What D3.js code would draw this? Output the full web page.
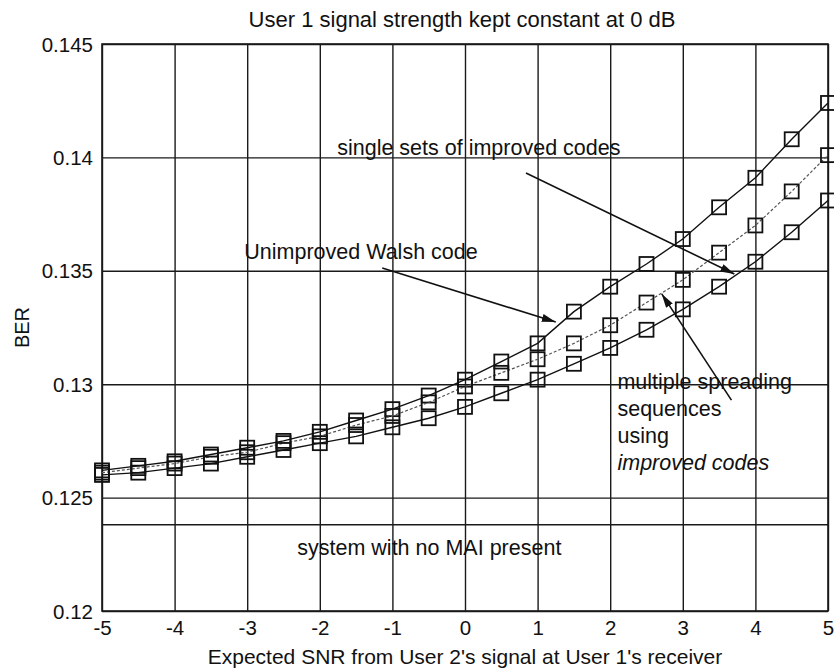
<!DOCTYPE html>
<html>
<head>
<meta charset="utf-8">
<script src="https://d3js.org/d3.v7.min.js"></script>
<style>
  body { margin: 0; background: #fff; }
  text { font-family: "Liberation Sans", Arial, sans-serif; fill: #111; }
</style>
</head>
<body>
<svg id="chart" width="834" height="672"></svg>
<script>
// expected SNR of user 2 (dB)
var snr = [-5, -4.5, -4, -3.5, -3, -2.5, -2, -1.5, -1, -0.5, 0, 0.5, 1, 1.5, 2, 2.5, 3, 3.5, 4, 4.5, 5];

var berWalsh = [0.1262, 0.1264, 0.1266, 0.1269, 0.1272, 0.1275, 0.1279, 0.1284, 0.1289, 0.1295, 0.1302,
                0.1310, 0.1318, 0.1332, 0.1343, 0.1353, 0.1364, 0.1378, 0.1391, 0.1408, 0.1424];
var berMultiple = [0.1261, 0.1263, 0.1265, 0.1268, 0.1270, 0.1274, 0.1277, 0.1282, 0.1286, 0.1292, 0.1299,
                   0.1305, 0.1311, 0.1318, 0.1326, 0.1336, 0.1346, 0.1358, 0.1370, 0.1385, 0.1401];
var berSingle = [0.1260, 0.1261, 0.1263, 0.1265, 0.1268, 0.1271, 0.1274, 0.1277, 0.1281, 0.1285, 0.1290,
                 0.1296, 0.1302, 0.1309, 0.1316, 0.1324, 0.1333, 0.1343, 0.1354, 0.1367, 0.1381];
var berNoMAI = 0.1238;

var xTicks = [-5, -4, -3, -2, -1, 0, 1, 2, 3, 4, 5];
var yTicks = [0.12, 0.125, 0.13, 0.135, 0.14, 0.145];
var yTickLabels = ["0.12", "0.125", "0.13", "0.135", "0.14", "0.145"];

var svg = d3.select('#chart');
var mLeft = 102, mRight = 828, mTop = 44, mBottom = 611;

var x = d3.scaleLinear().domain([-5, 5]).range([mLeft, mRight]);
var y = d3.scaleLinear().domain([0.12, 0.145]).range([mBottom, mTop]);

// grid + tick labels
var xAxis = d3.axisBottom(x).tickValues(xTicks).tickSize(-(mBottom - mTop)).tickPadding(8)
    .tickFormat(function(d) { return d < 0 ? '-' + Math.abs(d) : d; });
var gx = svg.append('g').attr('transform', 'translate(0,' + mBottom + ')').call(xAxis);

var yAxis = d3.axisLeft(y).tickValues(yTicks).tickSize(-(mRight - mLeft)).tickPadding(9)
    .tickFormat(function(d, i) { return yTickLabels[i]; });
var gy = svg.append('g').attr('transform', 'translate(' + mLeft + ',0)').call(yAxis);

[gx, gy].forEach(function(g) {
    g.select('.domain').remove();
    g.selectAll('line').attr('stroke', '#1a1a1a').attr('stroke-width', 1.4);
    g.selectAll('text').attr('font-size', 20.5).attr('fill', '#111')
        .style('font-family', '"Liberation Sans", Arial, sans-serif');
});
gx.selectAll('text').attr('dy', '0.8em');
gy.selectAll('text').attr('dy', '0.35em');

svg.append('rect')
    .attr('x', mLeft).attr('y', mTop)
    .attr('width', mRight - mLeft).attr('height', mBottom - mTop)
    .attr('fill', 'none').attr('stroke', '#1a1a1a').attr('stroke-width', 1.6);

// no-MAI reference line
svg.append('line')
    .attr('x1', x(-5)).attr('x2', x(5))
    .attr('y1', y(berNoMAI)).attr('y2', y(berNoMAI))
    .attr('stroke', '#1a1a1a').attr('stroke-width', 1.4);

// curves
var series = [
    { values: berWalsh, color: '#111', width: 1.4, dash: null },
    { values: berMultiple, color: '#555', width: 1.2, dash: '3,2' },
    { values: berSingle, color: '#111', width: 1.4, dash: null }
];

var line = d3.line()
    .x(function(d, i) { return x(snr[i]); })
    .y(function(d) { return y(d); });

series.forEach(function(s) {
    svg.append('path')
        .datum(s.values)
        .attr('d', line)
        .attr('fill', 'none')
        .attr('stroke', s.color)
        .attr('stroke-width', s.width)
        .attr('stroke-dasharray', s.dash);

    svg.append('g').selectAll('rect')
        .data(s.values)
        .enter()
        .append('rect')
        .attr('x', function(d, i) { return x(snr[i]) - 7; })
        .attr('y', function(d) { return y(d) - 7; })
        .attr('width', 14).attr('height', 14)
        .attr('fill', 'none')
        .attr('stroke', '#111')
        .attr('stroke-width', 1.8);
});

// annotations (data coordinates)
var defs = svg.append('defs');
defs.append('marker')
    .attr('id', 'head')
    .attr('viewBox', '0 0 14 8')
    .attr('refX', 14).attr('refY', 4)
    .attr('markerWidth', 14).attr('markerHeight', 8)
    .attr('markerUnits', 'userSpaceOnUse')
    .attr('orient', 'auto')
    .append('path').attr('d', 'M0,0 L14,4 L0,8 Z').attr('fill', '#111');

var arrows = [
    [-1.14, 0.13512, 1.25, 0.13274],
    [0.84, 0.13931, 3.71, 0.13486],
    [3.67, 0.1293, 2.71, 0.13398]
];
arrows.forEach(function(a) {
    svg.append('line')
        .attr('x1', x(a[0])).attr('y1', y(a[1]))
        .attr('x2', x(a[2])).attr('y2', y(a[3]))
        .attr('stroke', '#111').attr('stroke-width', 1.6)
        .attr('marker-end', 'url(#head)');
});

function note(txt, xv, yv, italic) {
    svg.append('text')
        .attr('x', x(xv)).attr('y', y(yv))
        .attr('font-size', 21.5)
        .attr('font-style', italic ? 'italic' : 'normal')
        .text(txt);
}
note('single sets of improved codes', -1.76, 0.14011);
note('Unimproved Walsh code', -3.04, 0.1355);
note('system with no MAI present', -2.31, 0.12247);
var multiLines = ['multiple spreading', 'sequences', 'using', 'improved codes'];
multiLines.forEach(function(t, i) {
    svg.append('text')
        .attr('x', x(2.10)).attr('y', y(0.12978) + i * 27)
        .attr('font-size', 21.5)
        .attr('font-style', i === 3 ? 'italic' : 'normal')
        .text(t);
});

// titles
svg.append('text')
    .attr('x', 462).attr('y', 27)
    .attr('text-anchor', 'middle').attr('font-size', 22)
    .text('User 1 signal strength kept constant at 0 dB');

svg.append('text')
    .attr('x', (mLeft + mRight) / 2).attr('y', 664)
    .attr('text-anchor', 'middle').attr('font-size', 21)
    .text("Expected SNR from User 2's signal at User 1's receiver");

svg.append('text')
    .attr('transform', 'translate(29,' + ((mTop + mBottom) / 2) + ') rotate(-90)')
    .attr('text-anchor', 'middle').attr('font-size', 20)
    .text('BER');
</script>
</body>
</html>
